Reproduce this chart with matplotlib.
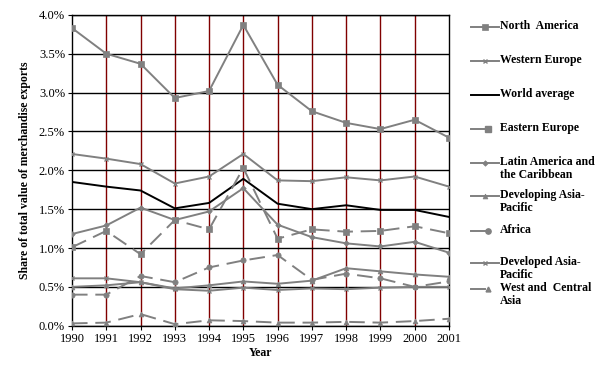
import matplotlib.pyplot as plt
from matplotlib.lines import Line2D
from matplotlib.ticker import FuncFormatter

plt.rcParams['font.family'] = ['Liberation Serif', 'DejaVu Serif']

years = list(range(1990, 2002))

north_america = [3.83, 3.50, 3.37, 2.93, 3.02, 3.87, 3.10, 2.76, 2.61, 2.53, 2.65, 2.42]
western_europe = [2.21, 2.15, 2.08, 1.83, 1.92, 2.21, 1.87, 1.86, 1.91, 1.87, 1.92, 1.79]
world_average = [1.85, 1.79, 1.74, 1.51, 1.58, 1.89, 1.57, 1.50, 1.55, 1.49, 1.49, 1.40]
eastern_europe = [1.01, 1.22, 0.92, 1.36, 1.24, 2.03, 1.12, 1.24, 1.21, 1.22, 1.28, 1.19]
latin_america = [1.18, 1.29, 1.52, 1.36, 1.47, 1.77, 1.30, 1.14, 1.06, 1.02, 1.08, 0.94]
developing_asia = [0.50, 0.52, 0.56, 0.48, 0.52, 0.57, 0.54, 0.58, 0.74, 0.70, 0.66, 0.63]
africa = [0.40, 0.40, 0.64, 0.56, 0.75, 0.84, 0.91, 0.59, 0.67, 0.61, 0.50, 0.57]
developed_asia = [0.61, 0.61, 0.56, 0.47, 0.45, 0.49, 0.46, 0.48, 0.47, 0.49, 0.50, 0.50]
west_central_asia = [0.03, 0.04, 0.15, 0.02, 0.07, 0.06, 0.04, 0.04, 0.05, 0.04, 0.06, 0.09]

grey = '#808080'
dash = (8, 4)

# label, values, color, marker, markersize, dashed
series = [
    ('North  America', north_america, grey, 's', 3.8, False),
    ('Western Europe', western_europe, grey, 'x', 3.2, False),
    ('World average', world_average, 'black', None, 0, False),
    ('Eastern Europe', eastern_europe, grey, 's', 5, True),
    ('Latin America and\nthe Caribbean', latin_america, grey, 'D', 2.8, False),
    ('Developing Asia-\nPacific', developing_asia, grey, '^', 3.5, False),
    ('Africa', africa, grey, 'o', 3.8, True),
    ('Developed Asia-\nPacific', developed_asia, grey, 'x', 3.2, False),
    ('West and  Central\nAsia', west_central_asia, grey, '^', 3.5, True),
]

fig = plt.figure(figsize=(6.05, 3.71), dpi=100)
ax = fig.add_axes([0.119, 0.122, 0.623, 0.838])

for label, vals, col, mk, ms, dashed in series:
    ls = (0, dash) if dashed else '-'
    ax.plot(years, vals, color=col, linestyle=ls, linewidth=1.4,
            marker=mk, markersize=ms, markeredgewidth=1.0 if mk == 'x' else 0.5,
            markeredgecolor=col, zorder=3)

ax.set_xlim(1990, 2001)
ax.set_ylim(0, 4.0)
ax.set_xticks(years)
ax.set_yticks([0, 0.5, 1.0, 1.5, 2.0, 2.5, 3.0, 3.5, 4.0])
ax.yaxis.set_major_formatter(FuncFormatter(lambda v, p: f'{v:.1f}%'))
ax.tick_params(labelsize=9, direction='out', length=3, color='black', pad=2)

ax.grid(axis='y', color='black', linewidth=1)
for yr in years[1:-1]:
    ax.axvline(yr, color='#800000', linewidth=1, zorder=1)
for s in ax.spines.values():
    s.set_color('black')
    s.set_linewidth(1)

ax.set_xlabel('Year', fontsize=8.5, fontweight='bold', labelpad=2)
ax.set_ylabel('Share of total value of merchandise exports', fontsize=8.5,
              fontweight='bold', labelpad=6)

# legend drawn by hand so marker sits on the first text line
leg_y = [27, 61, 95, 129, 163, 196, 231, 263, 289]
W, H = 605, 371
for (label, vals, col, mk, ms, dashed), yp in zip(series, leg_y):
    yf = 1 - yp / H
    if dashed:
        fig.add_artist(Line2D([471 / W, 485 / W], [yf, yf], color=col,
                              linewidth=1.4))
        fig.add_artist(Line2D([488 / W], [yf], color=col, marker=mk,
                              markersize=ms, markeredgecolor=col))
    else:
        fig.add_artist(Line2D([471 / W, 499 / W], [yf, yf], color=col,
                              linewidth=1.4))
        if mk:
            fig.add_artist(Line2D([485 / W], [yf], color=col, marker=mk,
                                  markersize=ms, markeredgecolor=col,
                                  markeredgewidth=1.0 if mk == 'x' else 0.5))
    fig.text(500 / W, yf + 7 / H, label, fontsize=8.5, fontweight='bold',
             va='top', ha='left', linespacing=1.12)

fig.savefig('out.png', dpi=100)
